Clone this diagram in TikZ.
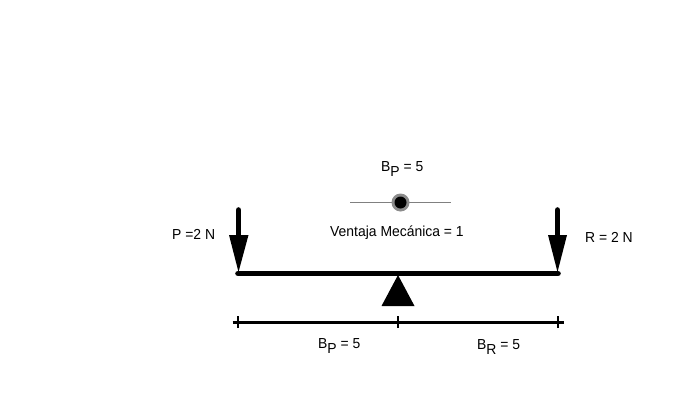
\documentclass[tikz,border=0pt]{standalone}
\usepackage{fontspec}
\setmainfont[FakeStretch=0.96]{Liberation Sans}
\usetikzlibrary{calc}
\tikzset{
  lbl/.style={inner sep=0pt,font=\fontsize{14.5}{16}\selectfont,text=black},
  beamline/.style={line width=5.6pt,line cap=round},
  shaft/.style={line width=5.6pt,line cap=round},
  dimline/.style={line width=3pt},
  tick/.style={line width=2.6pt}
}
\newcommand{\subtxt}[2]{#1\raisebox{-0.36em}{#2}}
\begin{document}
\begin{tikzpicture}[x=1pt,y=-1pt]
\useasboundingbox (0,0) rectangle (700,400);
% slider
\coordinate (sl) at (350,202.5);
\coordinate (sr) at (451,202.5);
\draw[line width=1pt,black!50] (sl) -- (sr);
\node[circle,fill=black!45,draw=none,minimum size=18pt,inner sep=0pt] (knobouter) at (400.5,202.5) {};
\node[circle,fill=black,draw=none,minimum size=12pt,inner sep=0pt] (knob) at (400.5,202.5) {};
% beam
\coordinate (bl) at (238,273.5);
\coordinate (br) at (558,273.5);
\draw[beamline] (bl) -- (br);
% left force
\coordinate (pt) at (238.5,210);
\coordinate (pb) at (238.5,236);
\draw[shaft] (pt) -- (pb);
\fill (229,235) -- (248.5,235) -- (238.5,272) -- cycle;
% right force
\coordinate (rt) at (557.5,210);
\coordinate (rb) at (557.5,236);
\draw[shaft] (rt) -- (rb);
\fill (548,235) -- (567,235) -- (557.5,272) -- cycle;
% fulcrum
\fill (398,275) -- (414.5,306) -- (381.5,306) -- cycle;
% dimension
\coordinate (dl) at (232.5,322);
\coordinate (dr) at (563.5,322);
\draw[dimline] (dl) -- (dr);
\coordinate (t1a) at (238,316); \coordinate (t1b) at (238,328);
\coordinate (t2a) at (398,316); \coordinate (t2b) at (398,328);
\coordinate (t3a) at (558,316); \coordinate (t3b) at (558,328);
\draw[tick] (t1a) -- (t1b);
\draw[tick] (t2a) -- (t2b);
\draw[tick] (t3a) -- (t3b);
% labels
\node[lbl,anchor=base west] (top) at (381,171) {\subtxt{B}{P} = 5};
\node[lbl,anchor=base west] (vm) at (330,236.5) {Ventaja Mecánica = 1};
\node[lbl,anchor=base west] (p) at (172,239) {P =2 N};
\node[lbl,anchor=base west] (r) at (585,242) {R = 2 N};
\node[lbl,anchor=base west] (bp) at (318,348) {\subtxt{B}{P} = 5};
\node[lbl,anchor=base west] (brr) at (477,349) {\subtxt{B}{R} = 5};
\end{tikzpicture}
\end{document}
